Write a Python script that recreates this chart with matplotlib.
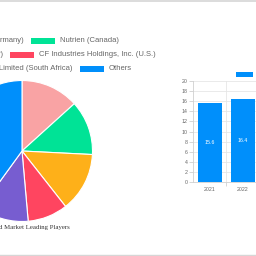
import matplotlib
matplotlib.use("Agg")
import matplotlib.pyplot as plt
from matplotlib.patches import Rectangle

# pie: market leading players (clockwise from 12 o'clock)
players = ['K+S Group (Germany)', 'Nutrien (Canada)', 'Yara International (Norway)',
           'CF Industries Holdings, Inc. (U.S.)', 'Omnia Holdings Limited (South Africa)', 'Others']
shares = [13.3, 12.5, 13.6, 9.2, 11.4, 40.0]
pie_colors = ['#F9A3A4', '#00E396', '#FEB019', '#FF4560', '#775DD0', '#008FFB']

# bar: market size
years = ['2021', '2022']
sizes = [15.6, 16.4]
bar_label = 'Market Size (Billion USD)'
caption = 'Ammonium Nitrate Market Share by Region and Market Leading Players'

W = 256.0
fig = plt.figure(figsize=(2.56, 2.56), dpi=100)
fig.patch.set_facecolor('white')

def px_axes(x0, y0, x1, y1):
    # pixel box (top-left origin) -> figure axes
    return fig.add_axes([x0 / W, 1 - y1 / W, (x1 - x0) / W, (y1 - y0) / W])

# ---- pie
cx, cy, r = 22, 151, 70.5
pax = px_axes(cx - r, cy - r, cx + r, cy + r)
pax.pie(shares, colors=pie_colors, startangle=90, counterclock=False, radius=1,
        wedgeprops=dict(edgecolor='white', linewidth=0.8))
pax.set_xlim(-1, 1)
pax.set_ylim(-1, 1)
pax.set_aspect('equal')
pax.axis('off')

# ---- bars
bax = px_axes(193, 81, 193 + 33.3 * 2, 182)
xs = list(range(len(years)))
bars = bax.bar(xs, sizes, width=0.72, color='#008FFB')
for x, v in zip(xs, sizes):
    bax.text(x, v / 2, str(v), color='white', ha='center', va='center', fontsize=3.8,
             family='Liberation Sans')
bax.set_xlim(-0.5, len(years) - 0.5)
bax.set_ylim(0, 20)
bax.set_yticks(range(0, 21, 2))
bax.set_xticks(xs)
bax.set_xticklabels(years)
bax.set_xticks([x + 0.5 for x in xs], minor=True)
bax.grid(axis='y', color='#e6e6e6', linewidth=0.6)
bax.grid(axis='x', which='minor', color='#e6e6e6', linewidth=0.6)
bax.set_axisbelow(True)
for s in ['top', 'right']:
    bax.spines[s].set_visible(False)
for s in ['left', 'bottom']:
    bax.spines[s].set_color('#d0d0d0')
    bax.spines[s].set_linewidth(0.6)
bax.tick_params(axis='y', length=3, width=0.6, color='#d0d0d0', pad=1,
                labelsize=3.8, labelcolor='#666666')
bax.tick_params(axis='x', which='major', length=0, pad=3.5, labelsize=3.8, labelcolor='#666666')
bax.tick_params(axis='x', which='minor', length=3, width=0.6, color='#d0d0d0')
for lab in bax.get_xticklabels() + bax.get_yticklabels():
    lab.set_family('Liberation Sans')

# ---- overlay for legends, caption, frame lines
ov = fig.add_axes([0, 0, 1, 1])
ov.set_xlim(0, W)
ov.set_ylim(W, 0)
ov.axis('off')
ov.patch.set_alpha(0)

# pie legend: (row y, box left) ; left-column items end at known x
rows_y = [41, 54.5, 68.5]
right_box_x = [31, 10, 80]
left_text_end = [24, 3.5, 72]
lg_font = dict(fontsize=5.5, color='#666666', family='Liberation Sans', va='center')
for i, (y, bx, tx) in enumerate(zip(rows_y, right_box_x, left_text_end)):
    left, right = players[2 * i], players[2 * i + 1]
    t = ov.text(tx, y, left, ha='right', **lg_font)
    ov.add_patch(Rectangle((bx, y - 3), 24, 6, color=pie_colors[2 * i + 1], lw=0))
    ov.text(bx + 29, y, right, ha='left', **lg_font)
    fig.canvas.draw()
    ext = t.get_window_extent()
    lx = ext.x0 - 29
    ov.add_patch(Rectangle((lx, y - 3), 24, 6, color=pie_colors[2 * i], lw=0))

# bar legend
ov.add_patch(Rectangle((236, 71.5), 16.5, 5, color='#008FFB', lw=0))
ov.text(256, 74, bar_label, ha='left', **lg_font)

# caption under pie
ov.text(70, 227, caption, ha='right', va='center', fontsize=4.9, color='#333333',
        family='Liberation Serif')

# frame lines
ov.plot([0, W], [0.8, 0.8], color='#d6d6d6', linewidth=1.2)
ov.plot([0, W], [254.5, 254.5], color='#d6d6d6', linewidth=1.0)

fig.savefig('out.png', dpi=100, facecolor='white')
